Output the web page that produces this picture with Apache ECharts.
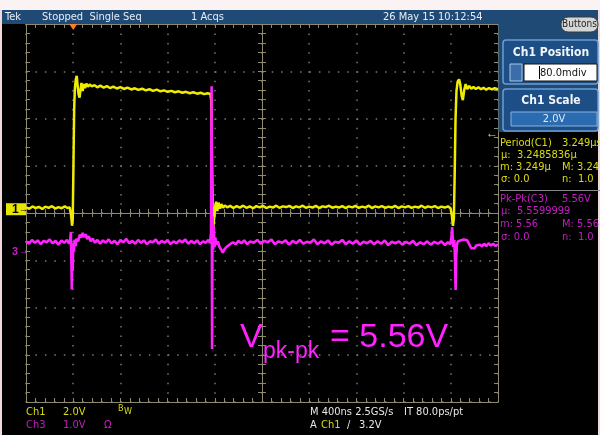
<!DOCTYPE html>
<html>
<head>
<meta charset="utf-8">
<script src="https://cdn.jsdelivr.net/npm/echarts@6/dist/echarts.min.js"></script>
<style>
  html, body { margin: 0; padding: 0; background: #000; }
  #scope { width: 600px; height: 435px; }
</style>
</head>
<body>
<div id="scope"></div>
<script>
// Channel 1 (yellow, 2 V/div): time in ns relative to the trigger, volts
const ch1Time = [
  -400, -372, -345, -318, -290, -262, -236, -208, -180, -152, -126, -98, -72, -48, -30,
  -18, -10, -4, 2, 8, 14, 22, 30, 38, 46, 54, 62, 70, 80, 90, 100, 112, 125, 140, 158,
  180, 205, 230, 258, 285, 312, 340, 370, 400, 430, 460, 492, 522, 552, 584, 615, 646,
  676, 708, 740, 770, 800, 832, 862, 894, 925, 956, 988, 1018, 1050, 1080, 1110, 1140,
  1162, 1170, 1176, 1182, 1188, 1195, 1203, 1212, 1222, 1232, 1244, 1256, 1270, 1285,
  1305, 1330, 1358, 1385, 1412, 1440, 1468, 1496, 1525, 1552, 1580, 1608, 1636, 1665,
  1692, 1720, 1748, 1776, 1805, 1832, 1860, 1888, 1916, 1945, 1972, 2000, 2028, 2056,
  2085, 2112, 2140, 2168, 2196, 2225, 2252, 2280, 2308, 2336, 2365, 2392, 2420, 2448,
  2476, 2505, 2532, 2560, 2588, 2616, 2645, 2672, 2700, 2728, 2756, 2785, 2812, 2840,
  2868, 2896, 2925, 2952, 2980, 3008, 3036, 3065, 3092, 3120, 3148, 3176, 3198, 3210,
  3218, 3226, 3233, 3240, 3248, 3258, 3270, 3280, 3292, 3302, 3314, 3326, 3340, 3356,
  3374, 3392, 3412, 3434, 3456, 3478, 3500, 3524, 3548, 3572, 3600
];
const ch1Volts = [
  0.08, 0.02, 0.12, 0.05, 0.10, 0.01, 0.11, 0.06, 0.13, 0.03, 0.09, 0.04, 0.12, 0.05, 0.08,
  -0.25, -0.70, -0.45, 1.80, 4.20, 5.10, 5.50, 5.65, 5.20, 4.85, 4.72, 5.05, 5.35, 5.00, 5.30, 5.12, 5.32, 5.18, 5.28, 5.20,
  5.25, 5.16, 5.23, 5.15, 5.21, 5.13, 5.19, 5.11, 5.17, 5.09, 5.15, 5.07, 5.12, 5.05, 5.10, 5.03, 5.08,
  5.01, 5.06, 4.99, 5.03, 4.97, 5.01, 4.95, 4.99, 4.93, 4.97, 4.91, 4.95, 4.89, 4.93, 4.87, 4.91,
  4.88, 4.60, 2.20, -0.20, -0.70, -0.35, 0.10, 0.32, -0.08, 0.28, 0.02, 0.22, 0.06, 0.16,
  0.08, 0.14, 0.05, 0.13, 0.07, 0.15, 0.06, 0.12, 0.04, 0.13, 0.08, 0.14, 0.05, 0.11,
  0.07, 0.15, 0.06, 0.12, 0.09, 0.14, 0.05, 0.12, 0.08, 0.15, 0.06, 0.11, 0.07, 0.14,
  0.05, 0.12, 0.09, 0.15, 0.06, 0.11, 0.07, 0.13, 0.05, 0.12, 0.08, 0.14, 0.06, 0.11,
  0.07, 0.15, 0.05, 0.12, 0.08, 0.13, 0.06, 0.11, 0.07, 0.14, 0.05, 0.12, 0.08, 0.13,
  0.06, 0.11, 0.07, 0.15, 0.06, 0.12, 0.08, 0.13, 0.05, 0.11, 0.07, 0.12, 0.04, -0.30,
  -0.70, -0.40, 1.50, 3.80, 5.00, 5.40, 5.50, 5.30, 4.80, 4.62, 5.05, 5.30, 5.08, 5.22,
  5.10, 5.18, 5.09, 5.16, 5.08, 5.14, 5.06, 5.13, 5.07, 5.12, 5.08
];

// Channel 3 (magenta, 1 V/div): time in ns relative to the trigger, volts
const ch3Time = [
  -400, -375, -350, -325, -300, -275, -250, -225, -200, -175, -150, -125, -100, -75, -52,
  -36, -26, -20, -16, -12, -8, -4, 0, 6, 12, 20, 30, 42, 55, 68, 80, 92, 105, 118, 132,
  148, 165, 185, 205, 228, 252, 276, 300, 325, 350, 375, 400, 425, 450, 475, 500, 525,
  550, 575, 600, 625, 650, 675, 700, 725, 750, 775, 800, 825, 850, 875, 900, 925, 950,
  975, 1000, 1025, 1050, 1075, 1100, 1125, 1145, 1160, 1168, 1173, 1177, 1181, 1186,
  1191, 1197, 1204, 1214, 1226, 1240, 1255, 1268, 1282, 1298, 1315, 1335, 1355, 1378,
  1400, 1425, 1450, 1475, 1500, 1530, 1560, 1590, 1620, 1650, 1680, 1710, 1740, 1770,
  1800, 1830, 1860, 1890, 1920, 1950, 1980, 2010, 2040, 2070, 2100, 2130, 2160, 2190,
  2220, 2250, 2280, 2310, 2340, 2370, 2400, 2430, 2460, 2490, 2520, 2550, 2580, 2610,
  2640, 2670, 2700, 2730, 2760, 2790, 2820, 2850, 2880, 2910, 2940, 2970, 3000, 3030,
  3060, 3090, 3120, 3150, 3175, 3195, 3205, 3212, 3220, 3230, 3236, 3241, 3246, 3252,
  3260, 3270, 3282, 3295, 3308, 3322, 3335, 3348, 3360, 3372, 3385, 3400, 3415, 3430,
  3448, 3465, 3482, 3500, 3520, 3540, 3560, 3580, 3600
];
const ch3Volts = [
  0.22, 0.17, 0.25, 0.19, 0.24, 0.16, 0.23, 0.20, 0.26, 0.18, 0.23, 0.15, 0.24, 0.19, 0.25,
  0.17, 0.22, 0.42, -0.10, -0.80, 0.05, -0.40, 0.18, 0.00, 0.26, 0.12, 0.28, 0.22, 0.36, 0.30, 0.40, 0.31, 0.37, 0.27, 0.33,
  0.22, 0.28, 0.19, 0.25, 0.17, 0.24, 0.19, 0.26, 0.18, 0.23, 0.16, 0.25, 0.20, 0.27, 0.18, 0.23, 0.17,
  0.25, 0.19, 0.24, 0.16, 0.22, 0.20, 0.26, 0.17, 0.23, 0.19, 0.25, 0.16, 0.22, 0.18, 0.24, 0.20, 0.26,
  0.17, 0.23, 0.18, 0.24, 0.16, 0.22, 0.19, 0.25, 0.18, 0.40, 3.50, -2.06, 0.75, 0.05,
  0.55, 0.10, 0.30, 0.15, 0.22, 0.10, 0.04, -0.02, 0.05, 0.10, 0.13, 0.17, 0.20, 0.16,
  0.23, 0.18, 0.24, 0.16, 0.22, 0.19, 0.25, 0.17, 0.23, 0.20, 0.26, 0.16, 0.22, 0.19,
  0.24, 0.15, 0.23, 0.18, 0.25, 0.17, 0.21, 0.19, 0.26, 0.16, 0.22, 0.18, 0.24, 0.15,
  0.21, 0.19, 0.25, 0.16, 0.22, 0.17, 0.24, 0.15, 0.21, 0.18, 0.23, 0.16, 0.22, 0.17,
  0.24, 0.14, 0.21, 0.18, 0.22, 0.15, 0.21, 0.17, 0.23, 0.14, 0.20, 0.16, 0.22, 0.15,
  0.21, 0.17, 0.22, 0.14, 0.20, 0.16, 0.30, 0.52, 0.10, 0.25, -0.20, -0.81, -0.10, 0.15,
  0.22, 0.18, 0.24, 0.20, 0.26, 0.30, 0.25, 0.20, 0.14, 0.08, 0.11, 0.07, 0.13, 0.09,
  0.15, 0.11, 0.17, 0.12, 0.18, 0.13, 0.17, 0.12, 0.16
];

// Screen setup: 10 horizontal x 8 vertical divisions
const timeRange = [-400, 3600];     // 400 ns/div, trigger one division from the left
const ch1Scale = 2.0;               // V/div
const ch1Offset = 0.08;             // ground marker position, divisions above centre
const ch3Scale = 1.0;               // V/div
const ch3Offset = -0.82;            // divisions
const triggerLevel = 3.2;           // V on Ch1

const pkpk = (Math.max(...ch3Volts) - Math.min(...ch3Volts)).toFixed(2);

const zip = (t, v) => t.map((x, i) => [x, v[i]]);

const FRAME = '#8e8a72';
const DOTS = '#7a7a6e';
const YEL = '#efec00';
const MAG = '#ff22ff';
const YEL_TXT = '#dcdc10';
const MAG_TXT = '#c21ec2';
const NARROW = '"Liberation Sans Narrow","DejaVu Sans Condensed","Liberation Sans",sans-serif';
const SANS = '"Liberation Sans","Arial",sans-serif';

function gratAxis(extra) {
  return Object.assign({
    type: 'value',
    axisLabel: { show: false },
    splitLine: { show: false },
    axisLine: { show: true, onZero: false, lineStyle: { color: FRAME, width: 1 } },
    axisTick: { show: true, inside: true, length: 4, lineStyle: { color: FRAME, width: 1 } },
    minorTick: { show: true, splitNumber: 5, length: 4, lineStyle: { color: FRAME, width: 1 } },
    minorSplitLine: { show: false },
    z: 1
  }, extra);
}

const chart = echarts.init(document.getElementById('scope'), null, { renderer: 'canvas' });

chart.setOption({
  backgroundColor: '#000',
  animation: false,
  grid: { left: 26, top: 24, width: 472, height: 378, containLabel: false, outerBoundsMode: 'none' },
  xAxis: [
    { type: 'value', min: timeRange[0], max: timeRange[1], show: false },
    gratAxis({ min: -5, max: 5, interval: 1, position: 'bottom',
      splitLine: { show: true, lineStyle: { color: DOTS, width: 1.5, type: [1.5, 7.94] } } }),
    gratAxis({ min: -5, max: 5, interval: 1, position: 'top' }),
    gratAxis({ min: -5, max: 5, interval: 1, position: 'bottom',
      axisLine: { show: true, onZero: true, onZeroAxisIndex: 2, lineStyle: { color: FRAME, width: 1 } } }),
    gratAxis({ min: -5, max: 5, interval: 1, position: 'bottom',
      axisLine: { show: true, onZero: true, onZeroAxisIndex: 2, lineStyle: { color: FRAME, width: 1 } },
      axisTick: { show: true, inside: false, length: 4, lineStyle: { color: FRAME, width: 1 } } })
  ],
  yAxis: [
    { type: 'value', min: -(4 + ch1Offset) * ch1Scale, max: (4 - ch1Offset) * ch1Scale, show: false },
    { type: 'value', min: -(4 + ch3Offset) * ch3Scale, max: (4 - ch3Offset) * ch3Scale, show: false },
    gratAxis({ min: -4, max: 4, interval: 1, position: 'left',
      splitLine: { show: true, lineStyle: { color: DOTS, width: 1.5, type: [1.5, 7.95] } } }),
    gratAxis({ min: -4, max: 4, interval: 1, position: 'right' }),
    gratAxis({ min: -4, max: 4, interval: 1, position: 'left',
      axisLine: { show: true, onZero: true, onZeroAxisIndex: 1, lineStyle: { color: FRAME, width: 1 } } }),
    gratAxis({ min: -4, max: 4, interval: 1, position: 'left',
      axisLine: { show: true, onZero: true, onZeroAxisIndex: 1, lineStyle: { color: FRAME, width: 1 } },
      axisTick: { show: true, inside: false, length: 4, lineStyle: { color: FRAME, width: 1 } } })
  ],
  series: [
    {
      name: 'Ch1', type: 'line', xAxisIndex: 0, yAxisIndex: 0,
      data: zip(ch1Time, ch1Volts), showSymbol: false, symbol: 'none', silent: true,
      lineStyle: { color: YEL, width: 2.5 }, z: 3
    },
    {
      name: 'Ch3', type: 'line', xAxisIndex: 0, yAxisIndex: 1,
      data: zip(ch3Time, ch3Volts), showSymbol: false, symbol: 'none', silent: true,
      lineStyle: { color: MAG, width: 2.6 }, z: 4
    }
  ]
});

// Positions of the channel/trigger markers come from the axes
const p1 = chart.convertToPixel({ xAxisIndex: 0, yAxisIndex: 0 }, [timeRange[0], 0]);
const p3 = chart.convertToPixel({ xAxisIndex: 0, yAxisIndex: 1 }, [timeRange[0], 0]);
const pTrig = chart.convertToPixel({ xAxisIndex: 0, yAxisIndex: 0 }, [0, triggerLevel]);
const pLvl = chart.convertToPixel({ xAxisIndex: 0, yAxisIndex: 0 }, [timeRange[1], triggerLevel]);

function txt(x, y, text, fill, font, align) {
  return { type: 'text', x: x, y: y, z: 20,
    style: { text: text, fill: fill, font: font, align: align || 'left', verticalAlign: 'middle' } };
}
function rect(x, y, w, h, fill, stroke, r, lw) {
  return { type: 'rect', z: 10, shape: { x: x, y: y, width: w, height: h, r: r || 0 },
    style: { fill: fill, stroke: stroke || null, lineWidth: lw || 1 } };
}

const f11 = '11px ' + NARROW;
const f11b = 'bold 12px ' + NARROW;
const els = [
  // frame strips and title bar
  rect(0, 0, 600, 10, '#fbf3f3'),
  rect(0, 10, 600, 14, '#1f4a76'),
  rect(0, 10, 2, 425, '#f2d9d9'),
  rect(598, 10, 2, 425, '#f2d9d9'),
  txt(5, 17, 'Tek', '#e6edf5', f11),
  txt(42, 17, 'Stopped  Single Seq', '#e6edf5', f11),
  txt(191, 17, '1 Acqs', '#e6edf5', f11),
  txt(383, 17, '26 May 15 10:12:54', '#e6edf5', f11),

  // side panel
  rect(498.5, 24, 99.5, 108, '#1f4a76'),
  rect(561, 17, 37, 15, '#d6d6d6', '#3a3a3a', 7, 1),
  txt(579.5, 24.5, 'Buttons', '#222', '10px ' + NARROW, 'center'),
  rect(503, 40, 95, 44, '#1d4f86', '#6b9dd2', 3, 1.5),
  txt(551, 53, 'Ch1 Position', '#f2f6fb', f11b, 'center'),
  rect(510, 64, 12, 17, '#3b6ea8', '#a8c6ea', 0, 1),
  rect(524, 64, 73, 17, '#ffffff', '#111111', 0, 1),
  { type: 'line', z: 21, shape: { x1: 539.5, y1: 66, x2: 539.5, y2: 79 }, style: { stroke: '#000', lineWidth: 1 } },
  txt(540, 73, '80.0mdiv', '#111', f11),
  rect(503, 89, 95, 42, '#1d4f86', '#6b9dd2', 3, 1.5),
  txt(551, 101, 'Ch1 Scale', '#f2f6fb', f11b, 'center'),
  rect(511, 112, 86, 14, '#2b6bb0', '#86b4e2', 0, 1),
  txt(554, 119, '2.0V', '#dbe8ff', f11, 'center'),

  // measurements
  txt(500, 143, 'Period(C1)', YEL_TXT, f11),
  txt(562, 143, '3.249µs', YEL_TXT, f11),
  txt(501, 155, 'µ:  3.2485836µ', YEL_TXT, f11),
  txt(500, 167, 'm: 3.249µ', YEL_TXT, f11),
  txt(562, 167, 'M: 3.249µ', YEL_TXT, f11),
  txt(501, 179, 'σ: 0.0', YEL_TXT, f11),
  txt(562, 179, 'n:  1.0', YEL_TXT, f11),
  { type: 'line', z: 20, shape: { x1: 500, y1: 190.5, x2: 600, y2: 190.5 }, style: { stroke: '#8a8a8a', lineWidth: 1 } },
  txt(500, 199, 'Pk-Pk(C3)', MAG_TXT, f11),
  txt(562, 199, pkpk + 'V', MAG_TXT, f11),
  txt(501, 211, 'µ:  5.5599999', MAG_TXT, f11),
  txt(500, 224, 'm: ' + pkpk, MAG_TXT, f11),
  txt(562, 224, 'M: ' + pkpk, MAG_TXT, f11),
  txt(501, 237, 'σ: 0.0', MAG_TXT, f11),
  txt(562, 237, 'n:  1.0', MAG_TXT, f11),

  // status line
  txt(26, 412, 'Ch1', YEL_TXT, f11),
  txt(63, 412, '2.0V', YEL_TXT, f11),
  txt(118, 409, 'B', YEL_TXT, '9px ' + NARROW),
  txt(124, 412, 'W', YEL_TXT, '9px ' + NARROW),
  txt(26, 425, 'Ch3', MAG_TXT, f11),
  txt(63, 425, '1.0V', MAG_TXT, f11),
  txt(104, 425, 'Ω', MAG_TXT, f11),
  txt(310, 412, 'M 400ns 2.5GS/s', '#e6e6e6', f11),
  txt(404, 412, 'IT 80.0ps/pt', '#e6e6e6', f11),
  txt(310, 425, 'A', '#e6e6e6', f11),
  txt(321, 425, 'Ch1', YEL_TXT, f11),
  txt(347, 425, '/', '#e6e6e6', f11),
  txt(359, 425, triggerLevel.toFixed(1) + 'V', '#e6e6e6', f11),

  // channel ground markers
  rect(6, p1[1] - 6, 20, 12, '#e8e600'),
  txt(12, p1[1] + 0.5, '1', '#000', 'bold 12px ' + SANS),
  txt(19, p1[1], '→', '#000', '9px ' + SANS),
  txt(12, p3[1] + 0.5, '3', MAG_TXT, 'bold 11px ' + SANS),
  txt(19, p3[1], '→', MAG_TXT, '9px ' + SANS),

  // trigger position and level
  { type: 'polygon', z: 22, shape: { points: [[pTrig[0] - 4, 24], [pTrig[0] + 4, 24], [pTrig[0], 30]] },
    style: { fill: '#ff7d25' } },
  txt(pLvl[0] - 12, pLvl[1], '←', YEL, '12px ' + SANS),

  // annotation of the Ch3 peak-to-peak swing
  txt(240, 338, 'V', MAG, '34px ' + SANS),
  txt(263, 352, 'pk-pk', MAG, '23px ' + SANS),
  txt(330, 338, '= ' + pkpk + 'V', MAG, '34px ' + SANS)
];

chart.setOption({ graphic: els });
</script>
</body>
</html>
